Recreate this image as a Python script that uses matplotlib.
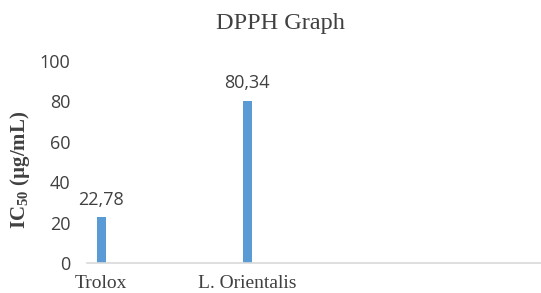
import matplotlib
matplotlib.use("Agg")
import matplotlib.pyplot as plt

# ========== data ==========
categories = ["Trolox", "L. Orientalis"]
ic50_values = [22.78, 80.34]
value_labels = ["22,78", "80,34"]
y_ticks = [0, 20, 40, 60, 80, 100]

plt.rcParams['mathtext.fontset'] = 'custom'
plt.rcParams['mathtext.rm'] = 'Liberation Serif:bold'
plt.rcParams['mathtext.default'] = 'rm'

BAR_COLOR = '#5b9bd5'
TEXT_COLOR = '#404040'

fig = plt.figure(figsize=(5.41, 2.93), dpi=100)
ax = fig.add_axes([0.161, 0.1024, 0.839, 0.6894])

x = list(range(len(categories)))
ax.bar(x, ic50_values, width=0.062, color=BAR_COLOR, zorder=2)

for xi, v, lab in zip(x, ic50_values, value_labels):
    ax.annotate(lab, (xi, v), xytext=(0, 6), textcoords='offset points',
                ha='center', va='bottom', fontsize=13, family='Open Sans',
                color=TEXT_COLOR)

ax.set_xlim(-0.096, 3.01)
ax.set_ylim(0, 100)
ax.set_yticks(y_ticks)
ax.set_yticklabels([str(t) for t in y_ticks], family='Open Sans', fontsize=13,
                   color=TEXT_COLOR)
ax.set_xticks(x)
ax.set_xticklabels(categories, family='Liberation Serif', fontsize=14,
                   color=TEXT_COLOR)
ax.tick_params(axis='both', length=0)
ax.tick_params(axis='y', pad=12)
ax.tick_params(axis='x', pad=9)

for side in ['top', 'right', 'left']:
    ax.spines[side].set_visible(False)
ax.spines['bottom'].set_color('#d9d9d9')
ax.spines['bottom'].set_linewidth(1.2)

fig.text(0.518, 0.92, "DPPH Graph", ha='center', va='center',
         family='Liberation Serif', fontsize=17.5, color=TEXT_COLOR)
fig.text(0.037, 0.42, 'IC$_{50}$ (µg/mL)', ha='center', va='center',
         rotation=90, family='Liberation Serif', fontweight='bold',
         fontsize=15, color=TEXT_COLOR)

fig.savefig("out.png", dpi=100)
